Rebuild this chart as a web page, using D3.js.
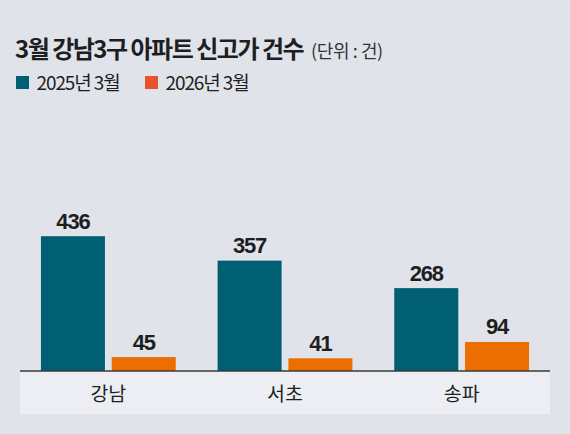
<!DOCTYPE html>
<html><head><meta charset="utf-8">
<script src="https://cdn.jsdelivr.net/npm/d3@7"></script>
<style>
html,body{margin:0;padding:0;background:#e1e3ea;}
svg{display:block;}
</style></head>
<body>
<svg id="chart" width="570" height="434"></svg>
<script>
const categories = ["강남", "서초", "송파"];
const seriesNames = ["2025년 3월", "2026년 3월"];
const values2025 = [436, 357, 268];
const values2026 = [45, 41, 94];
const titleText = "3월 강남3구 아파트 신고가 건수";
const unitText = "(단위 : 건)";

const barColors = ["#015f73", "#ec6d00"];
const legendColors = ["#015f73", "#e9522b"];

const svg = d3.select("#chart");
const W = 570, H = 434;
const font = "'Noto Sans CJK KR','Noto Sans',sans-serif";
const numFont = "'Liberation Sans','Noto Sans',Arial,sans-serif";

svg.append("rect").attr("width", W).attr("height", H).attr("fill", "#e1e3ea");

// Title
const title = svg.append("text").attr("x", 15).attr("y", 57.5)
  .attr("font-family", font).attr("font-weight", 700).attr("font-size", 24)
  .attr("letter-spacing", -1.5).attr("fill", "#1e1e1e");
title.append("tspan").text(titleText);
title.append("tspan").attr("dx", 8).attr("font-weight", 400).attr("font-size", 18)
  .attr("letter-spacing", -0.4).attr("fill", "#333").text(unitText);

// Legend
const legendX = [16, 145];
seriesNames.forEach((s, i) => {
  svg.append("rect").attr("x", legendX[i]).attr("y", 76).attr("width", 13).attr("height", 13)
    .attr("fill", legendColors[i]);
  svg.append("text").attr("x", legendX[i] + 20.5).attr("y", 90)
    .attr("font-family", font).attr("font-size", 19).attr("letter-spacing", -1.1)
    .attr("fill", "#1e1e1e").text(s);
});

const baseY = 371;
const x0 = d3.scaleBand().domain(categories).range([20, 550]).paddingInner(0.237).paddingOuter(0.1185);
const x1 = d3.scaleBand().domain(seriesNames).range([0, x0.bandwidth()]).paddingInner(0.096);
const y = d3.scaleLinear().domain([0, 500]).range([baseY, baseY - 154.6]);

// Label band
svg.append("rect").attr("x", 20).attr("y", baseY).attr("width", 530).attr("height", 43).attr("fill", "#eceef3");

const data = categories.map((c, i) => ({cat: c, vals: [values2025[i], values2026[i]]}));

const g = svg.append("g").selectAll("g").data(data).join("g")
  .attr("transform", d => `translate(${x0(d.cat)},0)`);

g.selectAll("rect").data(d => d.vals.map((v, j) => ({key: seriesNames[j], v, j})))
  .join("rect")
  .attr("x", d => x1(d.key)).attr("width", x1.bandwidth())
  .attr("y", d => y(d.v)).attr("height", d => baseY - y(d.v))
  .attr("fill", d => barColors[d.j]);

g.selectAll("text.val").data(d => d.vals.map((v, j) => ({key: seriesNames[j], v, j})))
  .join("text").attr("class", "val")
  .attr("x", d => x1(d.key) + x1.bandwidth() / 2).attr("y", d => y(d.v) - 7.5)
  .attr("text-anchor", "middle").attr("font-family", numFont).attr("font-weight", 700)
  .attr("font-size", 22).attr("letter-spacing", -1.2).attr("fill", "#1e1e1e").text(d => d.v);

// Axis
const axis = svg.append("g").attr("transform", `translate(0,${baseY})`)
  .call(d3.axisBottom(x0).tickSize(0).tickPadding(0));
axis.select(".domain").attr("d", "M20,0H550").attr("stroke", "#3a3a3a").attr("stroke-width", 1.3);
axis.selectAll(".tick text").attr("y", 30).attr("dy", 0)
  .attr("font-family", font).attr("font-size", 19.5).attr("fill", "#1e1e1e");
</script>
</body></html>
